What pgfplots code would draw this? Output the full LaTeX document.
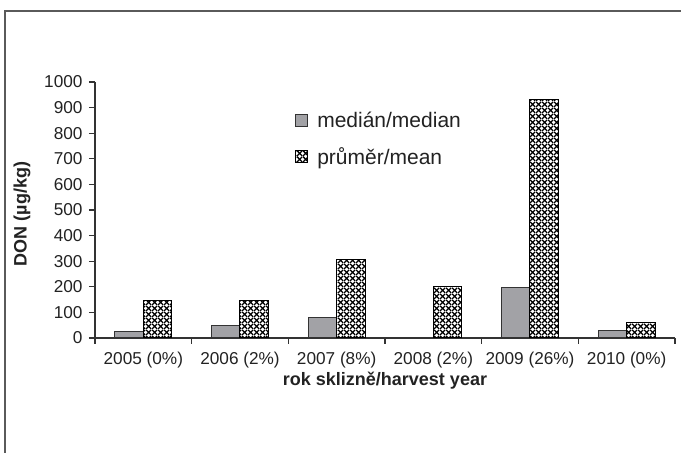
\documentclass[border=0pt]{standalone}
\usepackage{pgfplots}
\pgfplotsset{compat=1.18}
\usepackage{fontspec}
\setmainfont{Liberation Sans}
\usetikzlibrary{patterns.meta}
\definecolor{medgray}{HTML}{A2A2A6}
\definecolor{txt}{HTML}{222222}
\definecolor{axc}{HTML}{333333}
\definecolor{framec}{HTML}{5A5A5A}
\tikzdeclarepattern{
  name=diamondgrid,
  type=uncolored,
  bounding box={(0pt,0pt) and (5.6pt,5.6pt)},
  tile size={(5.6pt,5.6pt)},
  code={
    \draw[line width=1.35pt] (0pt,0pt) -- (5.6pt,5.6pt) (0pt,5.6pt) -- (5.6pt,0pt);
  }
}
\begin{document}
\begin{tikzpicture}[x=1pt,y=1pt]
\useasboundingbox (0,0) rectangle (681,453);
\draw[framec,line width=2pt] (5,0) -- (5,442) -- (681,442);
\begin{axis}[
  at={(95pt,115pt)}, anchor=south west,
  scale only axis, width=580pt, height=256pt,
  ybar=0pt, bar width=28.6pt,
  xmin=-0.5, xmax=5.5, ymin=0, ymax=1000,
  axis x line=bottom, axis y line=left,
  axis line style={-, axc, line width=1.2pt},
  xtick={0,...,5},
  xticklabels={2005 (0\%),2006 (2\%),2007 (8\%),2008 (2\%),2009 (26\%),2010 (0\%)},
  major x tick style={draw=none},
  minor xtick={-0.5,0.5,...,5.5},
  minor x tick style={axc, line width=1.1pt},
  minor tick length=6pt,
  ytick={0,100,...,1000},
  y tick style={axc, line width=1.1pt},
  major tick length=6pt,
  tick align=outside,
  /pgf/number format/assume math mode=true,
  /pgf/number format/1000 sep={},
  tick label style={font=\fontsize{17.2}{20}\selectfont, text=txt},
  xticklabel style={yshift=-5pt},
  yticklabel style={xshift=-3pt},
  xlabel={rok sklizně/harvest year},
  ylabel={DON (µg/kg)},
  label style={font=\bfseries\fontsize{18}{21}\selectfont, text=txt},
  xlabel style={at={(axis description cs:0.5,-0.168)}, anchor=center},
  ylabel style={at={(axis description cs:-0.126,0.484)}, anchor=center},
  legend style={at={(axis description cs:0.345,0.89)}, anchor=north west,
    draw=none, fill=none, font=\fontsize{21}{25}\selectfont, text=txt,
    row sep=14pt, inner sep=0pt,
    /tikz/every odd column/.append style={column sep=7pt}},
  legend cell align=left,
  legend image code/.code={\draw[#1] (0pt,-6pt) rectangle (12pt,6pt);},
]
\addplot[fill=medgray, draw=axc, line width=1pt] coordinates {(0,27) (1,47) (2,82) (3,3) (4,198) (5,31)};
\addplot[pattern=diamondgrid, pattern color=black, draw=black, line width=1pt] coordinates {(0,148) (1,145) (2,305) (3,203) (4,930) (5,59)};
\legend{medián/median, průměr/mean}
\end{axis}
\end{tikzpicture}
\end{document}
